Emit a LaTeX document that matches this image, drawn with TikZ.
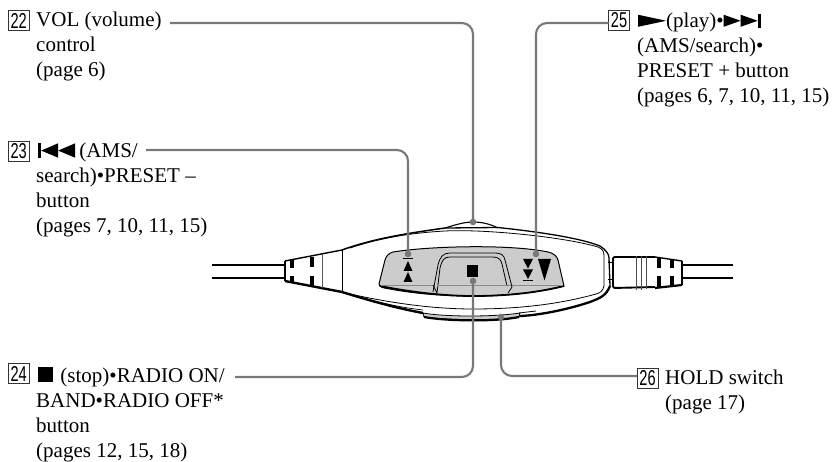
\documentclass[tikz,border=0pt]{standalone}
\usepackage{fontspec}
\setmainfont{Liberation Serif}
\newfontfamily\boxfont{Liberation Sans}
\definecolor{leadgray}{gray}{0.47}
\definecolor{panelgray}{gray}{0.8}
\tikzset{leader/.style = {draw=leadgray, line width=2.1pt, rounded corners=11pt},
         leaddot/.style = {fill=leadgray},
         lbl/.style = {anchor=north west, align=left, inner sep=0pt, font=\fontsize{21pt}{25pt}\selectfont},
         numbox/.style = {draw=black!80, line width=0.9pt, inner sep=0pt, minimum width=21pt, minimum height=20pt, font=\boxfont\fontsize{21.5pt}{21.5pt}\selectfont}}
\newcommand{\boxnum}[1]{\scalebox{0.68}[1]{#1}}
\newcommand{\icoprev}{\tikz[baseline=0pt,x=1pt,y=1pt]{\fill (0,0) rectangle (3,14.5); \fill (20,0) -- (3,7.2) -- (20,14.5) -- cycle; \fill (37,0) -- (20,7.2) -- (37,14.5) -- cycle;}}
\newcommand{\icoplay}{\tikz[baseline=0pt,x=1pt,y=1pt]{\fill (0,1) -- (28,7) -- (0,13) -- cycle;}}
\newcommand{\iconext}{\tikz[baseline=0pt,x=1pt,y=1pt]{\fill (0,1) -- (17,7) -- (0,13) -- cycle; \fill (17,1) -- (34,7) -- (17,13) -- cycle; \fill (34,0) rectangle (37,14);}}
\newcommand{\icostop}{\tikz[baseline=0pt,x=1pt,y=1pt]{\fill (0,0) rectangle (15,15);}}
\begin{document}
\begin{tikzpicture}[x=1pt,y=-1pt]
\useasboundingbox (0,0) rectangle (835,462);
% cords
\draw [line width=1.1pt] (212,265) -- (285,265);
\draw [line width=2.8pt] (212,278) -- (285,278);
\draw [line width=1.1pt] (683,265) -- (733,265);
\draw [line width=2.8pt] (683,278) -- (733,278);
% left strain relief
\draw [line width=1.4pt] (285,261) -- (342,250);
\draw [line width=2.4pt] (285,281) -- (342,292);
\draw [line width=1.2pt] (285,261) -- (285,281);
\draw [line width=3.6pt] (292,260) -- (292,268) (292,276) -- (292,282);
\draw [line width=3.6pt] (312,257) -- (312,267) (312,276) -- (312,287);
\draw [line width=1pt, black!65] (322,254) -- (322,288);
\draw [line width=0.8pt] (342,250) -- (342,291);
% body
\draw [line width=1.5pt] (342,250) .. controls (375,238) and (410,233) .. (445,228);
\draw [line width=1.1pt] (445,228) .. controls (458,224) and (465,222) .. (473,222) .. controls (482,222) and (490,224) .. (498,228);
\draw [line width=1.3pt] (445,228) -- (498,227.5) .. controls (540,232) and (580,238) .. (600,246) .. controls (606,250) and (609,254) .. (609,258) -- (610,286);
\draw [line width=2.3pt] (610,286) .. controls (606,296) and (600,298) .. (590,302) .. controls (560,312) and (530,316) .. (519,316);
\draw [line width=0.8pt] (350,248) .. controls (380,238) and (410,233) .. (445,231) .. controls (480,229) and (560,236) .. (598,247) .. controls (603,249) and (604,252) .. (604,256) -- (604,286) .. controls (603,291) and (600,293) .. (596,294) .. controls (560,304) and (520,309) .. (473,309) .. controls (440,309) and (400,305) .. (350,294);
\draw [line width=2.4pt] (342,292) .. controls (355,296) and (390,307) .. (423,313);
\draw [line width=0.7pt] (367,299) .. controls (385,304) and (405,308) .. (423,310);
\draw [line width=0.8pt, fill=panelgray] (423,313) -- (424,317) .. controls (445,320) and (495,321) .. (519,317) -- (520,313) .. controls (495,317) and (445,317) .. (423,313) -- cycle;
\draw [line width=2.2pt] (424,317) .. controls (445,321) and (495,322) .. (519,317);
\draw [line width=0.8pt] (519,313) -- (536,311);
% panel
\draw [line width=1pt, fill=panelgray] (393,252) .. controls (430,246) and (510,244) .. (548,252) .. controls (553,253) and (557,256) .. (558,260) -- (564,286) .. controls (540,292) and (510,296) .. (473,296) .. controls (440,296) and (410,293) .. (390,289) .. controls (383,288) and (379,287) .. (379,284) -- (385,260) .. controls (386,256) and (389,253) .. (393,252) -- cycle;
\draw [line width=1.8pt] (380,286) .. controls (405,291) and (440,296) .. (473,296) .. controls (510,296) and (540,292) .. (564,286);
\draw [line width=0.6pt, black!45] (381,285) -- (433,285);
\draw [line width=0.6pt, black!45] (507,285) -- (563,285);
% stop button
\draw [line width=0.8pt] (433,292) -- (438,265) .. controls (440,257) and (443,253) .. (450,253) -- (495,253) .. controls (501,253) and (504,255) .. (505,260) -- (512,287) -- (508,293);
\draw [line width=0.8pt] (433,285) -- (437,293) -- (440,268) .. controls (442,260) and (444,257) .. (450,257) -- (493,257) .. controls (499,257) and (501,260) .. (502,264) -- (507,286);
\draw [line width=0.6pt, black!45] (437,285) -- (507,285);
\fill (467,265) rectangle (478,277);
% marks on the buttons
\draw [line width=1pt] (403,259) -- (413,259);
\fill (408,261) -- (403.5,271) -- (412.5,271) -- cycle;
\fill (408,272) -- (403.5,282) -- (412.5,282) -- cycle;
\fill (523,259) -- (533,259) -- (528,268.5) -- cycle;
\fill (523,269.5) -- (533,269.5) -- (528,279) -- cycle;
\draw [line width=1pt] (523,280.5) -- (533,280.5);
\fill (538,259) -- (551,259) -- (544.5,280.5) -- cycle;
% right plug
\draw [line width=1pt] (608,263) -- (613,263) -- (613,280) -- (608,280);
\draw [line width=1.9pt, rounded corners=2pt] (655,257) -- (613,257) -- (613,288) -- (655,287);
\draw [line width=0.7pt, black!70] (636,256) -- (636,290) (641,256) -- (641,290) (646,256) -- (646,289);
\draw [line width=1.4pt] (655,257) -- (682,261);
\draw [line width=2.2pt] (655,288) -- (682,285);
\draw [line width=1.4pt] (682,261) -- (682,285);
\draw [line width=3.6pt] (659,258) -- (659,268) (659,276) -- (659,287);
\draw [line width=3.6pt] (672,259) -- (672,268) (672,276) -- (672,286);
% labels
\node [numbox] (n22) at (18.7,20.8) {\boxnum{22}};
\node [lbl] (t22) at (36,12) {VOL (volume)\\control\\(page 6)};
\node [numbox] (n23) at (18.7,151) {\boxnum{23}};
\node [lbl] (t23) at (36,143) {\hspace*{2pt}\icoprev\hspace{-1pt}\ (AMS/\\search)•PRESET –\\button\\(pages 7, 10, 11, 15)};
\node [numbox] (n24) at (18.7,373.7) {\boxnum{24}};
\node [lbl] (t24) at (36,367) {\hspace*{2pt}\icostop\hspace{2pt}\ (stop)•RADIO ON/\\BAND•RADIO OFF*\\button\\(pages 12, 15, 18)};
\node [numbox] (n25) at (619,20.5) {\boxnum{25}};
\node [lbl] (t25) at (637,13) {\hspace*{1pt}\icoplay(play)•\iconext\\(AMS/search)•\\PRESET + button\\(pages 6, 7, 10, 11, 15)};
\node [numbox] (n26) at (647.5,378.5) {\boxnum{26}};
\node [lbl] (t26) at (665,370) {HOLD switch\\(page 17)};
% leaders
\coordinate (c22) at (170,23);
\coordinate (c23) at (146,150);
\coordinate (c24) at (235,377);
\coordinate (c25) at (608.5,23);
\coordinate (c26) at (637,376);
\coordinate (d22) at (473,222);
\coordinate (d23) at (408,254);
\coordinate (d24) at (473,281);
\coordinate (d25) at (536,254);
\coordinate (d26) at (501,317);
\draw [leader] (c22) -| (d22);
\draw [leader] (c23) -| (d23);
\draw [leader] (c24) -| (d24);
\draw [leader] (c25) -| (d25);
\draw [leader] (c26) -| (d26);
\foreach \d in {d22,d23,d24,d25,d26}
  \fill [leaddot] (\d) circle (3.3);
\end{tikzpicture}
\end{document}
